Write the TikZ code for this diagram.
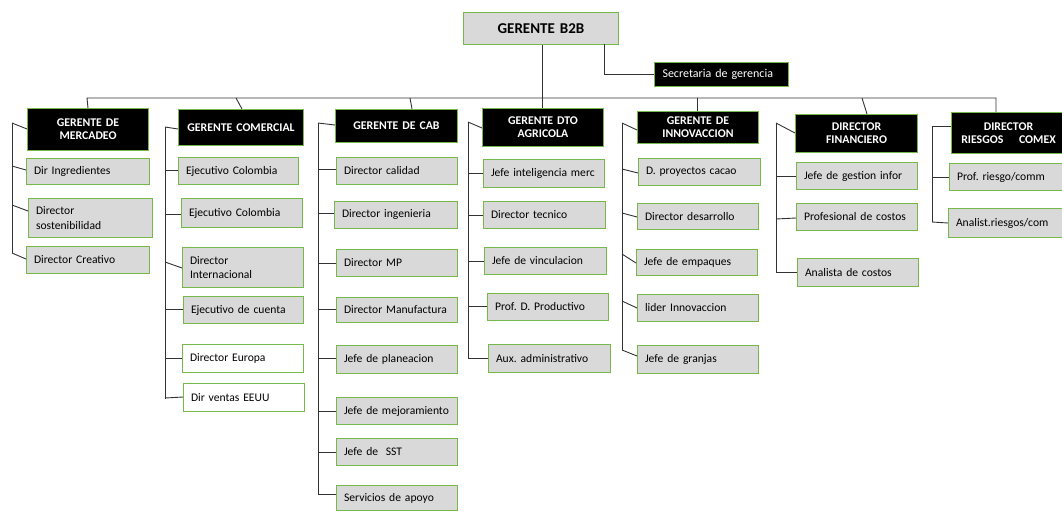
\documentclass[tikz,border=0pt]{standalone}
\usepackage{fontspec}
\setmainfont{Carlito}[WordSpace=0.6]
\frenchspacing
\definecolor{grn}{RGB}{118,184,74}
\definecolor{gry}{RGB}{217,217,217}
\definecolor{lnc}{RGB}{50,50,50}
\protected\def\kidfont{\fontsize{11.6}{14.5}\selectfont\hyphenpenalty 10000\relax}
\protected\def\secfont{\fontsize{12}{14}\selectfont}
\tikzset{
  base/.style={draw=grn, line width=1pt, anchor=north west, inner xsep=7pt, inner ysep=1pt},
  gbox/.style={base, fill=gry, align=left, font=\kidfont},
  wbox/.style={gbox, fill=white},
  hbox/.style={base, fill=black, text=white, align=center, font=\fontsize{11.8}{12.8}\selectfont\bfseries},
  topbox/.style={base, fill=gry, align=center, font=\fontsize{15}{17}\selectfont\bfseries},
  secbox/.style={base, fill=black, text=white, align=left, inner xsep=8pt, font=\secfont},
  ln/.style={draw=lnc, line width=0.9pt},
}
% box from its corners: name, x1, y1, x2, y2, style, text
% (lines are kept unbroken; the text width only fixes the box width)
\newcommand\bx[7]{%
  \pgfmathsetmacro\bxw{#4-#2}\pgfmathsetmacro\bxh{#5-#3}\pgfmathsetmacro\bxt{#4-#2-15}%
  \node[#6, minimum width=\bxw pt, minimum height=\bxh pt, text width=\bxt pt] (#1) at (#2,#3) {#7};}
% connector from a point on a spine to the west side of a box
\newcommand\cn[4]{%
  \coordinate (#1-in) at (#2,#3);
  \draw[ln] (#1-in) -- (#1.west |- 0,#4);}
\begin{document}
\begin{tikzpicture}[x=1pt, y=-1pt]
\useasboundingbox (0,0) rectangle (1062,512);

% top level
\bx{b2b}{463}{12}{618}{44}{topbox}{GERENTE B2B}
\bx{sec}{654}{62}{787}{86}{secbox}{Secretaria de gerencia}

% heads of area
\bx{mer}{27}{108}{148}{150}{hbox}{GERENTE DE\\MERCADEO}
\bx{com}{178}{109}{303}{145}{hbox}{GERENTE COMERCIAL}
\bx{cab}{335}{109}{457}{142}{hbox}{GERENTE DE CAB}
\bx{dto}{482}{108}{603}{146}{hbox}{GERENTE DTO\\AGRICOLA}
\bx{inn}{637}{111}{758}{143}{hbox}{GERENTE DE\\INNOVACCION}
\bx{fin}{795}{114}{917}{152}{hbox}{DIRECTOR\\FINANCIERO}
\bx{rie}{951}{112}{1065}{153}{hbox}{DIRECTOR\\RIESGOS\ \ \ \ COMEX}

% mercadeo
\bx{mer1}{26}{158}{149}{184}{gbox}{\mbox{Dir Ingredientes}}
\bx{mer2}{28}{198}{152}{237}{gbox}{Director\\sostenibilidad}
\bx{mer3}{26}{246}{149}{273}{gbox}{\mbox{Director Creativo}}
% comercial
\bx{com1}{178}{157}{298}{184}{gbox}{\mbox{Ejecutivo Colombia}}
\bx{com2}{181}{198}{302}{227}{gbox}{\mbox{Ejecutivo Colombia}}
\bx{com3}{182}{247}{303}{287}{gbox}{Director\\Internacional}
\bx{com4}{183}{296}{303}{323}{gbox}{\mbox{Ejecutivo de cuenta}}
\bx{com5}{182}{344}{303}{372}{wbox}{\mbox{Director Europa}}
\bx{com6}{183}{383}{304}{411}{wbox}{\mbox{Dir ventas EEUU}}
% cab
\bx{cab1}{336}{157}{457}{184}{gbox}{\mbox{Director calidad}}
\bx{cab2}{334}{201}{457}{228}{gbox}{\mbox{Director ingenieria}}
\bx{cab3}{336}{249}{457}{276}{gbox}{\mbox{Director MP}}
\bx{cab4}{336}{297}{457}{322}{gbox}{\mbox{Director Manufactura}}
\bx{cab5}{336}{345}{457}{373}{gbox}{\mbox{Jefe de planeacion}}
\bx{cab6}{336}{397}{457}{424}{gbox}{\mbox{Jefe de mejoramiento}}
\bx{cab7}{336}{438}{457}{465}{gbox}{\mbox{Jefe de \ SST}}
\bx{cab8}{336}{485}{457}{510}{gbox}{\mbox{Servicios de apoyo}}
% agricola
\bx{dto1}{483}{159}{604}{187}{gbox}{\mbox{Jefe inteligencia merc}}
\bx{dto2}{483}{201}{605}{228}{gbox}{\mbox{Director tecnico}}
\bx{dto3}{484}{247}{606}{274}{gbox}{\mbox{Jefe de vinculacion}}
\bx{dto4}{487}{293}{608}{320}{gbox}{\mbox{Prof. D. Productivo}}
\bx{dto5}{488}{344}{610}{372}{gbox}{\mbox{Aux. administrativo}}
% innovaccion
\bx{inn1}{638}{158}{760}{185}{gbox}{\mbox{D. proyectos cacao}}
\bx{inn2}{637}{203}{758}{229}{gbox}{\mbox{Director desarrollo}}
\bx{inn3}{636}{249}{757}{275}{gbox}{\mbox{Jefe de empaques}}
\bx{inn4}{637}{294}{758}{321}{gbox}{\mbox{lider Innovaccion}}
\bx{inn5}{637}{345}{758}{373}{gbox}{\mbox{Jefe de granjas}}
% financiero
\bx{fin1}{796}{162}{917}{189}{gbox}{\mbox{Jefe de gestion infor}}
\bx{fin2}{796}{203}{917}{230}{gbox}{\mbox{Profesional de costos}}
\bx{fin3}{797}{258}{918}{286}{gbox}{\mbox{Analista de costos}}
% riesgos
\bx{rie1}{949}{163}{1065}{190}{gbox}{\mbox{Prof. riesgo/comm}}
\bx{rie2}{948}{208}{1065}{237}{gbox}{\mbox{Analist.riesgos/com}}

% trunk, bus and drops
\coordinate (busL) at (87,98);
\coordinate (busR) at (996,98);
\coordinate (dcom) at (236,98);
\coordinate (dcab) at (410,98);
\coordinate (dinn) at (697,98);
\coordinate (dfin) at (862,98);
\coordinate (secK) at (604,44);
\draw[ln] (b2b.south -| 542,0) -- (dto.north -| 542,0);
\draw[ln] (secK) |- (sec.west);
\draw[ln] (mer.north) -- (busL) -- (busR) -- (rie.north -| busR);
\draw[ln] (dcom) -- (com.north -| 242,0);
\draw[ln] (dcab) -- (cab.north -| 412,0);
\draw[ln] (dinn) -- (inn.north -| 697,0);
\draw[ln] (dfin) -- (fin.north -| 867,0);

% spines
\draw[ln] (12,123) coordinate (smer) -- (12,253) coordinate (emer);
\draw[ln] (165,127) coordinate (scom) -- (165,399) coordinate (ecom);
\draw[ln] (318,123) coordinate (scab) -- (318,494) coordinate (ecab);
\draw[ln] (468,122) coordinate (sdto) -- (468,358) coordinate (edto);
\draw[ln] (622,123) coordinate (sinn) -- (622,350) coordinate (einn);
\draw[ln] (776,123) coordinate (sfin) -- (776,272) coordinate (efin);
\draw[ln] (932,126) coordinate (srie) -- (932,222) coordinate (erie);

% connectors from spines to boxes
\cn{mer}{12}{123}{129} \cn{mer1}{12}{166}{170} \cn{mer2}{12}{205}{211} \cn{mer3}{12}{253}{259}
\cn{com}{165}{127}{129} \cn{com1}{165}{170}{170} \cn{com2}{165}{214}{214} \cn{com3}{165}{262}{268}
\cn{com4}{165}{309}{309} \cn{com5}{165}{358}{358} \cn{com6}{165}{398}{397}
\cn{cab}{318}{123}{125} \cn{cab1}{318}{169}{169} \cn{cab2}{318}{213}{213} \cn{cab3}{318}{263}{263}
\cn{cab4}{318}{309}{309} \cn{cab5}{318}{358}{358} \cn{cab6}{318}{411}{411} \cn{cab7}{318}{452}{452}
\cn{cab8}{318}{494}{494}
\cn{dto}{468}{122}{128} \cn{dto1}{468}{173}{173} \cn{dto2}{468}{215}{215} \cn{dto3}{468}{261}{261}
\cn{dto4}{468}{306}{306} \cn{dto5}{468}{358}{358}
\cn{inn}{622}{123}{130} \cn{inn1}{622}{169}{173} \cn{inn2}{622}{213}{217} \cn{inn3}{622}{254}{263}
\cn{inn4}{622}{301}{308} \cn{inn5}{622}{350}{356}
\cn{fin}{776}{123}{133} \cn{fin1}{776}{176}{176} \cn{fin2}{776}{219}{218} \cn{fin3}{776}{272}{272}
\cn{rie}{932}{126}{126} \cn{rie1}{932}{177}{177} \cn{rie2}{932}{222}{223}
\end{tikzpicture}
\end{document}
